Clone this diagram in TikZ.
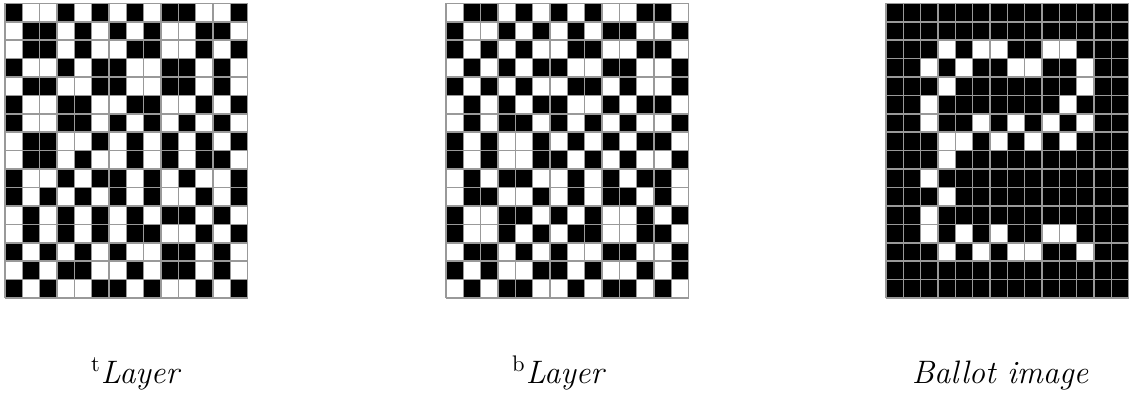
\documentclass[tikz,border=0pt]{standalone}
\usepackage{tikz}
\usetikzlibrary{positioning}
\definecolor{gridgray}{RGB}{153,153,153}

% share layer (t), rows top to bottom
\newcommand{\toplayer}{%
  {1,0,0,1,0,1,0,1,0,1,1,0,0,1},{0,1,1,0,1,0,1,0,1,0,0,1,1,0},%
  {0,1,1,0,1,0,0,1,1,0,0,1,0,1},{1,0,0,1,0,1,1,0,0,1,1,0,1,0},%
  {0,1,1,0,0,1,1,0,0,1,1,0,1,0},{1,0,0,1,1,0,0,1,1,0,0,1,0,1},%
  {1,0,0,1,1,0,1,0,1,0,1,0,1,0},{0,1,1,0,0,1,0,1,0,1,0,1,0,1},%
  {0,1,1,0,1,0,0,1,0,1,0,1,1,0},{1,0,0,1,0,1,1,0,1,0,1,0,0,1},%
  {1,0,1,0,1,0,1,0,1,0,0,1,0,1},{0,1,0,1,0,1,0,1,0,1,1,0,1,0},%
  {0,1,0,1,0,1,0,1,1,0,0,1,0,1},{1,0,1,0,1,0,1,0,0,1,1,0,1,0},%
  {0,1,0,1,1,0,0,1,0,1,1,0,1,0},{1,0,1,0,0,1,1,0,1,0,0,1,0,1}}
% share layer (b)
\newcommand{\botlayer}{%
  {0,1,1,0,1,0,1,0,1,0,0,1,1,0},{1,0,0,1,0,1,0,1,0,1,1,0,0,1},%
  {1,0,1,0,1,0,0,1,1,0,0,1,1,0},{0,1,0,1,0,1,1,0,0,1,1,0,0,1},%
  {1,0,1,0,1,0,0,1,1,0,1,0,0,1},{0,1,0,1,0,1,1,0,0,1,0,1,1,0},%
  {0,1,0,1,1,0,1,0,1,0,1,0,0,1},{1,0,1,0,0,1,0,1,0,1,0,1,1,0},%
  {1,0,1,0,0,1,1,0,1,0,1,0,0,1},{0,1,0,1,1,0,0,1,0,1,0,1,1,0},%
  {0,1,1,0,0,1,0,1,0,1,1,0,1,0},{1,0,0,1,1,0,1,0,1,0,0,1,0,1},%
  {1,0,0,1,0,1,0,1,1,0,0,1,1,0},{0,1,1,0,1,0,1,0,0,1,1,0,0,1},%
  {1,0,1,0,0,1,1,0,1,0,0,1,0,1},{0,1,0,1,1,0,0,1,0,1,1,0,1,0}}

\def\cw{17.33}
\def\ch{18.42}

% black subpixels of one layer, grid left edge at #1
\newcommand{\filllayer}[2]{%
  \foreach \row [count=\r] in #2 {
    \foreach \v [count=\c] in \row {
      \ifnum\v=1
        \fill[black] ({#1+(\c-1)*\cw},{3.3+(\r-1)*\ch}) rectangle ++(\cw,\ch);
      \fi
    }
  }%
}
% grid lines over a layer
\newcommand{\gridlayer}[1]{%
  \foreach \i in {0,...,14}
    \draw[gridgray, line width=0.7pt] ({#1+\i*\cw},3.3) -- ++(0,{16*\ch});
  \foreach \j in {0,...,16}
    \draw[gridgray, line width=0.7pt] (#1,{3.3+\j*\ch}) -- ++({14*\cw},0);%
}

\begin{document}
\begin{tikzpicture}[x=0.0156cm, y=-0.0156cm]
  \useasboundingbox (0,0) rectangle (1130,394);

  %--- t layer ---
  \filllayer{5}{\toplayer}
  \gridlayer{5}

  %--- b layer ---
  \filllayer{446}{\botlayer}
  \gridlayer{446}

  %--- stacked: both layers ---
  \filllayer{886}{\toplayer}
  \filllayer{886}{\botlayer}
  \gridlayer{886}

  %--- captions ---
  \node[anchor=base, font=\Large\itshape, inner sep=0pt] (toplbl) at (135,383) {\textsuperscript{\upshape t}Layer};
  \node[anchor=base, font=\Large\itshape, inner sep=0pt] (botlbl) at (558,383) {\textsuperscript{\upshape b}Layer};
  \node[anchor=base, font=\Large\itshape, inner sep=0pt] (ballotlbl) at (1000,383) {Ballot image};
\end{tikzpicture}
\end{document}
